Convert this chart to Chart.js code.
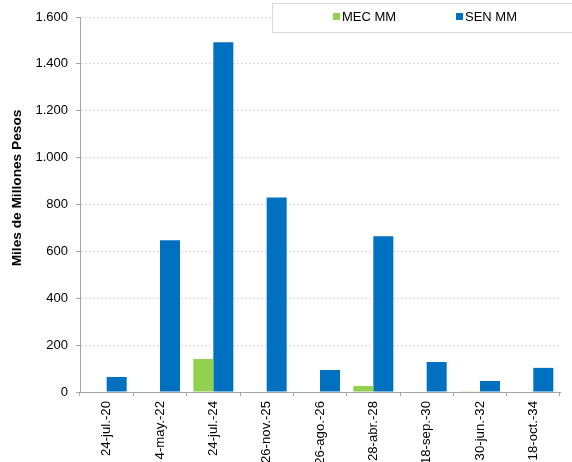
<!DOCTYPE html>
<html>
<head>
<meta charset="utf-8">
<script src="https://cdn.jsdelivr.net/npm/chart.js@4/dist/chart.umd.min.js"></script>
<style>
html,body{margin:0;padding:0;background:#fff;overflow:hidden;}
#wrap{width:572px;height:462px;position:relative;}
</style>
</head>
<body>
<div id="wrap"><canvas id="c" width="572" height="462"></canvas></div>
<script>
const categories = ["24-jul.-20","4-may.-22","24-jul.-24","26-nov.-25","26-ago.-26","28-abr.-28","18-sep.-30","30-jun.-32","18-oct.-34"];
const mecValues = [0, 0, 141, 0, 0, 26, 0, 3, 0];
const senValues = [64, 648, 1492, 830, 94, 665, 128, 47, 103];
const seriesNames = ["MEC MM", "SEN MM"];
const yTitle = "Miles de Millones Pesos";
const yTicks = [0, 200, 400, 600, 800, 1000, 1200, 1400, 1600];

const FONT = "'Liberation Sans', Arial, sans-serif";
const colors = ["#92D050", "#0070C0"];

function fmt(v){ return String(v).replace(/\B(?=(\d{3})+(?!\d))/g, "."); }

const overlay = {
  id: 'overlay',
  afterDraw(chart){
    const ctx = chart.ctx;
    ctx.save();
    // y title
    ctx.fillStyle = '#000';
    ctx.font = "bold 13.7px " + FONT;
    ctx.translate(17.5, 188);
    ctx.rotate(-Math.PI/2);
    ctx.textAlign = 'center';
    ctx.textBaseline = 'middle';
    ctx.fillText(yTitle, 0, 0);
    ctx.restore();
    // legend box
    ctx.save();
    ctx.fillStyle = '#fff';
    ctx.fillRect(272.5, 3.5, 310, 29);
    ctx.strokeStyle = '#d9d9d9';
    ctx.lineWidth = 1;
    ctx.strokeRect(272.5, 3.5, 310, 29);
    ctx.font = "13px " + FONT;
    ctx.textBaseline = 'middle';
    ctx.textAlign = 'left';
    const xs = [333, 456];
    chart.data.datasets.forEach((ds, i) => {
      ctx.fillStyle = ds.backgroundColor;
      ctx.fillRect(xs[i], 13, 7, 7);
      ctx.fillStyle = '#000';
      ctx.fillText(ds.label, xs[i] + 9, 17);
    });
    ctx.restore();
  }
};

new Chart(document.getElementById('c'), {
  type: 'bar',
  data: {
    labels: categories,
    datasets: [
      { label: seriesNames[0], data: mecValues, backgroundColor: colors[0] },
      { label: seriesNames[1], data: senValues, backgroundColor: colors[1] }
    ]
  },
  options: {
    responsive: false,
    animation: false,
    devicePixelRatio: 1,
    categoryPercentage: 0.75,
    barPercentage: 1.0,
    layout: { padding: { top: 17, right: 12, left: 0, bottom: 0 } },
    plugins: { legend: { display: false }, tooltip: { enabled: false } },
    scales: {
      x: {
        offset: true,
        afterFit(s){ s.height = 70; },
        grid: { offset: true, drawOnChartArea: false, drawTicks: true, tickLength: 4, color: '#a6a6a6' },
        border: { color: '#a6a6a6' },
        ticks: {
          autoSkip: false, maxRotation: 90, minRotation: 90, padding: 5,
          color: '#000', font: { family: FONT, size: 13.2 }
        }
      },
      y: {
        min: 0, max: 1600,
        afterFit(s){ s.width = 80; },
        afterBuildTicks(s){ s.ticks = yTicks.map(v => ({ value: v })); },
        grid: {
          color: '#d9d9d9', tickLength: 4, tickColor: '#a6a6a6', tickBorderDash: []
        },
        border: { color: '#a6a6a6', dash: [2, 2] },
        ticks: {
          padding: 8, color: '#000', font: { family: FONT, size: 13 },
          callback: v => fmt(v)
        }
      }
    }
  },
  plugins: [overlay]
});
</script>
</body>
</html>
